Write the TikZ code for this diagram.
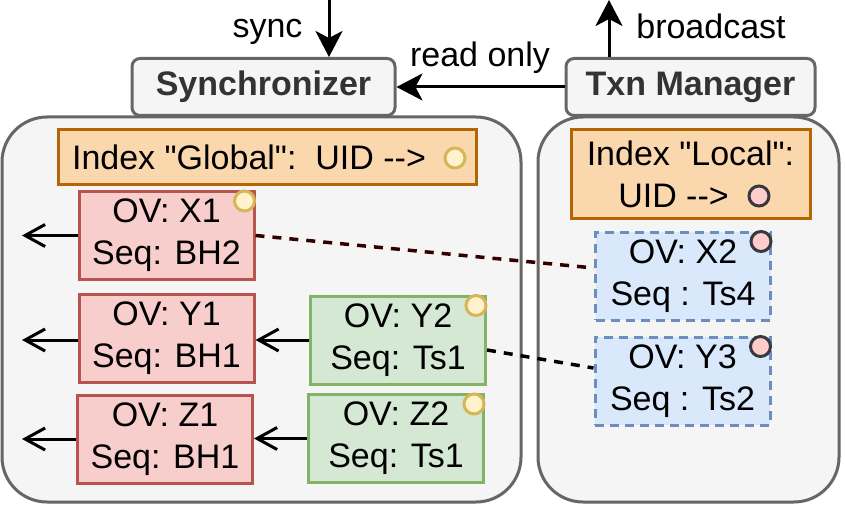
\documentclass[tikz,border=0pt]{standalone}
\usepackage{fontspec}
\setmainfont{Liberation Sans}[Ligatures=TeXOff]
\usetikzlibrary{arrows.meta, positioning, calc}
\definecolor{panelfill}{HTML}{F5F5F5}
\definecolor{panelline}{HTML}{666666}
\definecolor{idxfill}{HTML}{FAD7AC}
\definecolor{idxline}{HTML}{B46504}
\definecolor{redfill}{HTML}{F8CECC}
\definecolor{redline}{HTML}{B85450}
\definecolor{grnfill}{HTML}{D5E8D4}
\definecolor{grnline}{HTML}{82B366}
\definecolor{blufill}{HTML}{DAE8FC}
\definecolor{bluline}{HTML}{6C8EBF}
\definecolor{ylwfill}{HTML}{FFF2CC}
\definecolor{ylwline}{HTML}{D6B656}
\definecolor{pinkfill}{HTML}{FFCCCC}
\definecolor{dkline}{HTML}{36393D}
\definecolor{dkbrown}{HTML}{330000}
\definecolor{dktext}{HTML}{333333}
\newcommand{\uidto}{UID -\kern0pt-\kern0pt>}

\begin{document}
\begin{tikzpicture}[
  x=1pt, y=-1pt,
  font=\fontsize{34}{42}\selectfont,
  >={Stealth[length=26pt, width=27pt, inset=7pt]},
  openarr/.style={-{Straight Barb[length=20pt, width=22pt]}, line width=3pt},
  panel/.style={draw=panelline, fill=panelfill, line width=3pt, rounded corners=45pt},
  hdrbox/.style={draw=panelline, fill=panelfill, line width=3pt, rounded corners=8pt,
    font=\fontsize{34}{42}\selectfont\bfseries, text=dktext, minimum height=57pt, inner sep=0pt},
  idxbox/.style={draw=idxline, fill=idxfill, line width=3pt, align=center, inner sep=0pt},
  ovbox/.style={line width=3pt, align=center, minimum width=175pt, minimum height=88pt, inner sep=0pt},
  redov/.style={ovbox, draw=redline, fill=redfill},
  grnov/.style={ovbox, draw=grnline, fill=grnfill},
  bluov/.style={ovbox, draw=bluline, fill=blufill, dash pattern=on 9pt off 6pt},
  dot/.style={circle, line width=3pt, minimum size=20pt, inner sep=0pt},
  gdot/.style={dot, draw=ylwline, fill=ylwfill},
  ldot/.style={dot, draw=dkline, fill=pinkfill},
  link/.style={line width=3.5pt, dash pattern=on 9pt off 8pt},
]
\useasboundingbox (0,0) rectangle (845,505);

% ========================================
% Panels
% ========================================
\draw[panel] (2,117) rectangle (521,502);
\draw[panel] (538,117) rectangle (839,502);

% ========================================
% Top: Synchronizer and Txn Manager
% ========================================
\node[hdrbox, minimum width=263pt] (synch) at (263.5,87) {Synchronizer};
\node[hdrbox, minimum width=249pt] (txn) at (690.5,87) {Txn Manager};

\coordinate (syncin) at (329,0);
\coordinate (bcout) at (609,0);
\draw[->, line width=3pt] (syncin) -- (syncin |- synch.north);
\draw[->, line width=3pt] (bcout |- txn.north) -- (bcout);
\draw[->, line width=3pt] (txn.west) -- (synch.east);

\node[anchor=base] (synclbl) at (267.5,38) {sync};
\node[anchor=base] (bclbl) at (711,39) {broadcast};
\node[anchor=base] (rolbl) at (480,67) {read only};

% ========================================
% Left panel: global index
% ========================================
\node[idxbox, minimum width=418pt, minimum height=54pt] (idxg) at (267,157)
  {Index "Global":\ \ \uidto\hspace*{36pt}};
\node[gdot] (idxgdot) at (455,158) {};

\node[redov] (x1) at (166.5,235.5) {OV: X1\\Seq: BH2};
\node[redov] (y1) at (166.5,338) {OV: Y1\\Seq: BH1};
\node[redov] (z1) at (165,439) {OV: Z1\\Seq: BH1};
\node[grnov] (y2) at (398,340) {OV: Y2\\Seq: Ts1};
\node[grnov] (z2) at (396,438.5) {OV: Z2\\Seq: Ts1};

\node[gdot] (x1dot) at ([shift={(-11,11)}]x1.north east) {};
\node[gdot] (y2dot) at ([shift={(-11,11)}]y2.north east) {};
\node[gdot] (z2dot) at ([shift={(-11,11)}]z2.north east) {};

% outgoing versions
\coordinate (x1out) at (22,235.5);
\coordinate (y1out) at (22,340);
\coordinate (z1out) at (22,439);
\draw[openarr] (x1.west) -- (x1out);
\draw[openarr] (y1.west |- y1out) -- (y1out);
\draw[openarr] (z1.west) -- (z1out);
\draw[openarr] (y2.west) -- (y2.west -| y1.east);
\draw[openarr] (z2.west) -- (z2.west -| z1.east);

% ========================================
% Right panel: local index
% ========================================
\node[idxbox, minimum width=239pt, minimum height=88pt] (idxl) at (690.5,174)
  {Index "Local":\\\uidto\hspace*{34pt}};
\node[ldot] (idxldot) at (759,196) {};

\node[bluov] (x2) at (683,276) {OV: X2\\Seq : Ts4};
\node[bluov] (y3) at (682.5,381) {OV: Y3\\Seq : Ts2};
\node[ldot] (x2dot) at ([shift={(-11,11)}]x2.north east) {};
\node[ldot] (y3dot) at ([shift={(-11,11)}]y3.north east) {};

% links between versions
\draw[link, dkbrown] (x1.east) -- ([yshift=8pt]x2.west);
\draw[link] ([yshift=-10pt]y2.east) -- ([yshift=13pt]y3.west);

\end{tikzpicture}
\end{document}
